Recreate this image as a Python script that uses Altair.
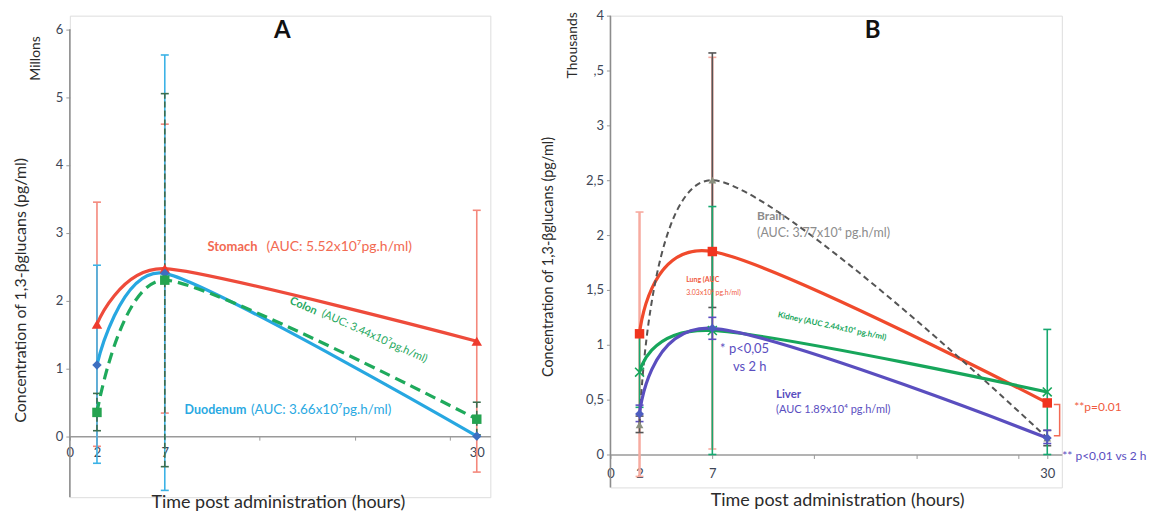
import altair as alt
import pandas as pd

FONT = "Lato"
TIMES = [2, 7, 30]

# ---------- Panel A (millions of pg/ml) ----------
A_NAMES = ["Stomach", "Duodenum", "Colon"]
STOMACH = [1.65, 2.47, 1.40]
STOMACH_LO = [-0.15, 0.34, -0.53]
STOMACH_HI = [3.45, 4.60, 3.33]
DUODENUM = [1.05, 2.40, 0.00]
DUODENUM_LO = [-0.40, -0.80, 0.00]
DUODENUM_HI = [2.52, 5.62, 0.00]
COLON = [0.35, 2.30, 0.25]
COLON_LO = [0.08, -0.45, 0.02]
COLON_HI = [0.63, 5.05, 0.50]

# ---------- Panel B (thousands of pg/ml) ----------
B_NAMES = ["Lung", "Brain", "Kidney", "Liver"]
LUNG = [1.10, 1.85, 0.47]
LUNG_LO = [-0.20, 0.05, 0.47]
LUNG_HI = [2.21, 3.62, 0.47]
BRAIN = [0.27, 2.50, 0.15]
BRAIN_LO = [0.20, 1.34, 0.08]
BRAIN_HI = [0.35, 3.66, 0.22]
KIDNEY = [0.75, 1.13, 0.57]
KIDNEY_LO = [0.43, 0.00, 0.00]
KIDNEY_HI = [1.07, 2.26, 1.14]
LIVER = [0.37, 1.15, 0.15]
LIVER_LO = [0.30, 1.05, 0.10]
LIVER_HI = [0.45, 1.25, 0.22]

A_YTICKS = [0, 1, 2, 3, 4, 5, 6]
B_YTICKS = [0, 0.5, 1, 1.5, 2, 2.5, 3, 3.5, 4]
X_TICKS = [0, 2, 7, 14, 21, 28, 30]
X_LABELED = [0, 2, 7, 30]

A_STYLE = {
    "Stomach": dict(color="#EE4B3B", dash=None, shape="triangle-up", mcolor="#EE3B2E",
                    ecolor="#F4887C", edash=None, size=110),
    "Duodenum": dict(color="#27A7E1", dash=None, shape="diamond", mcolor="#3D6FC0",
                     ecolor="#3BB2E6", edash=None, size=90),
    "Colon": dict(color="#1FAA5C", dash=[11, 6], shape="square", mcolor="#25A350",
                  ecolor="#3C6E4E", edash=[6, 3], size=90),
}
B_STYLE = {
    "Lung": dict(color="#F04A2C", dash=None, shape="square", mcolor="#F0341E",
                 ecolor="#F7ABA0", edash=None, size=90, ewidth=2.5),
    "Brain": dict(color="#555555", dash=[6, 4], shape="triangle-up", mcolor="#8A8F7E",
                  ecolor="#555555", edash=None, size=60, width=2),
    "Kidney": dict(color="#17A65B", dash=None, shape="M-1,-1L1,1M-1,1L1,-1", mcolor="#17A65B",
                   ecolor="#17A870", edash=None, size=80, hollow=True),
    "Liver": dict(color="#5A4EBF", dash=None, shape="diamond", mcolor="#4D5CC0",
                  ecolor="#5A4EBF", edash=None, size=80),
}


def build_df(names, vals, los, his):
    rows = []
    for name, v, lo, hi in zip(names, vals, los, his):
        for t, a, b, c in zip(TIMES, v, lo, hi):
            rows.append(dict(series=name, t=t, v=a, lo=b, hi=c))
    return pd.DataFrame(rows)


dfA = build_df(A_NAMES, [STOMACH, DUODENUM, COLON],
               [STOMACH_LO, DUODENUM_LO, COLON_LO], [STOMACH_HI, DUODENUM_HI, COLON_HI])
dfB = build_df(B_NAMES, [LUNG, BRAIN, KIDNEY, LIVER],
               [LUNG_LO, BRAIN_LO, KIDNEY_LO, LIVER_LO], [LUNG_HI, BRAIN_HI, KIDNEY_HI, LIVER_HI])


def make_panel(df, styles, ydom, yline, yticks, ylabel_expr, px_x, px_y, annotations,
               xlabel_pad, tension, extra=None):
    xdom = [0, 31]
    W = (xdom[1] - xdom[0]) * px_x
    H = (ydom[1] - ydom[0]) * px_y
    xscale = alt.Scale(domain=xdom, nice=False, zero=False)
    yscale = alt.Scale(domain=ydom, nice=False, zero=False)
    offset = -H * (0 - ydom[0]) / (ydom[1] - ydom[0])
    xaxis = alt.Axis(values=X_TICKS,
                     labelExpr="indexof(%s, datum.value) >= 0 ? datum.label : ''" % str(X_LABELED),
                     offset=offset, domainColor="#9a9a9a", domainWidth=1.5, tickColor="#9a9a9a",
                     tickSize=4, labelFont=FONT, labelFontSize=13, labelColor="#3d4656",
                     labelPadding=xlabel_pad, labelFlush=False, title=None, grid=False)
    yaxis = alt.Axis(values=yticks, labelExpr=ylabel_expr, domain=False, tickColor="#9a9a9a",
                     tickSize=4, labelFont=FONT, labelFontSize=13, labelColor="#3d4656",
                     labelPadding=3, title=None, grid=False)

    def X(f):
        return alt.X(f"{f}:Q", scale=xscale, axis=xaxis)

    def Y(f):
        return alt.Y(f"{f}:Q", scale=yscale, axis=yaxis)

    layers = []
    # y axis line
    yl = pd.DataFrame({"x": [0], "y": [yline[0]], "y2": [yline[1]]})
    layers.append(alt.Chart(yl).mark_rule(color="#8c8c8c", strokeWidth=1.5)
                  .encode(x=X("x"), y=Y("y"), y2="y2"))
    # error bars
    for name, st in styles.items():
        d = df[(df.series == name) & (df.hi > df.lo)]
        kw = {}
        if st["edash"]:
            kw["strokeDash"] = st["edash"]
        layers.append(alt.Chart(d).mark_rule(color=st["ecolor"], strokeWidth=st.get("ewidth", 1.6), **kw)
                      .encode(x=X("t"), y=Y("lo"), y2="hi"))
        for f in ["lo", "hi"]:
            layers.append(alt.Chart(d).mark_point(shape="stroke", size=64, filled=False,
                                                  color=st["ecolor"], strokeWidth=1.6, opacity=1)
                          .encode(x=X("t"), y=Y(f)))
    # lines (smoothed, Excel-like)
    for name, st in styles.items():
        d = df[df.series == name]
        kw = {}
        if st["dash"]:
            kw["strokeDash"] = st["dash"]
        layers.append(alt.Chart(d).mark_line(color=st["color"], strokeWidth=st.get("width", 3.2),
                                             interpolate="cardinal", tension=tension, **kw)
                      .encode(x=X("t"), y=Y("v")))
    # markers
    for name, st in styles.items():
        d = df[df.series == name]
        if st.get("hollow"):
            mk = alt.Chart(d).mark_point(shape=st["shape"], size=st["size"], filled=False,
                                         color=st["mcolor"], strokeWidth=1.6, opacity=1)
        else:
            mk = alt.Chart(d).mark_point(shape=st["shape"], size=st["size"], filled=True,
                                         color=st["mcolor"], opacity=1)
        layers.append(mk.encode(x=X("t"), y=Y("v")))
    if extra is not None:
        layers.append(extra(X, Y))
    # annotations
    for a in annotations:
        d = pd.DataFrame({"x": [a["x"]], "y": [a["y"]], "text": [a["text"]]})
        layers.append(alt.Chart(d).mark_text(
            font=FONT, fontSize=a["size"], fontWeight="bold" if a.get("bold") else "normal",
            color=a["color"], angle=a.get("angle", 0), align=a.get("align", "left"),
            baseline="middle").encode(x=X("x"), y=Y("y"), text="text:N"))
    return alt.layer(*layers).properties(width=W, height=H)


TITLE_COLOR = "#2b2b2b"
Y_TITLE = "Concentration of 1,3-βglucans (pg/ml)"
X_TITLE = "Time post administration (hours)"

annA = [
    dict(text="A", x=15.66, y=5.97, size=24, bold=True, color="#111111", align="center"),
    dict(text="Millons", x=-2.5, y=5.57, size=14, color=TITLE_COLOR, angle=270, align="center"),
    dict(text=Y_TITLE, x=-3.6, y=2.15, size=16, color=TITLE_COLOR, angle=270, align="center"),
    dict(text=X_TITLE, x=15.37, y=-0.985, size=18, color=TITLE_COLOR, align="center"),
    dict(text="Stomach", x=10.15, y=2.79, size=13, bold=True, color="#F26A52"),
    dict(text="(AUC: 5.52x10⁷pg.h/ml)", x=14.5, y=2.79, size=14, color="#F26A52"),
    dict(text="Colon", x=16.25, y=2.0, size=11, bold=True, color="#1FA85E", angle=24),
    dict(text="(AUC: 3.44x10⁷pg.h/ml)", x=18.6, y=1.81, size=11, color="#1FA85E", angle=24),
    dict(text="Duodenum", x=8.46, y=0.38, size=12.5, bold=True, color="#2AA9E2"),
    dict(text="(AUC: 3.66x10⁷pg.h/ml)", x=13.35, y=0.38, size=13.5, color="#2AA9E2"),
]

annB = [
    dict(text="B", x=18.0, y=3.86, size=24, bold=True, color="#111111", align="center"),
    dict(text="Thousands", x=-2.6, y=3.73, size=14, color=TITLE_COLOR, angle=270, align="center"),
    dict(text=Y_TITLE, x=-4.25, y=1.80, size=14.5, color=TITLE_COLOR, angle=270, align="center"),
    dict(text=X_TITLE, x=15.6, y=-0.42, size=18, color=TITLE_COLOR, align="center"),
    dict(text="Brain", x=10.07, y=2.17, size=12, bold=True, color="#8C8C8C"),
    dict(text="(AUC: 3.77x10⁴ pg.h/ml)", x=10.07, y=2.02, size=12.5, color="#8C8C8C"),
    dict(text="Lung (AUC", x=5.2, y=1.59, size=7, bold=True, color="#F05A40"),
    dict(text="3.03x10⁴ pg.h/ml)", x=5.2, y=1.47, size=7, color="#F05A40"),
    dict(text="Kidney  (AUC 2.44x10⁴ pg.h/ml)", x=11.5, y=1.27, size=8, bold=True,
         color="#17A65B", angle=12),
    dict(text="* p<0,05", x=7.53, y=0.96, size=13, color="#5A4EBF"),
    dict(text="vs 2 h", x=8.42, y=0.80, size=13, color="#5A4EBF"),
    dict(text="Liver", x=11.37, y=0.545, size=11.5, bold=True, color="#5A4EBF"),
    dict(text="(AUC 1.89x10⁴ pg.h/ml)", x=11.37, y=0.41, size=11, color="#5A4EBF"),
    dict(text="**p=0.01", x=31.85, y=0.43, size=12, color="#F05A40"),
    dict(text="** p<0,01 vs 2 h", x=31.03, y=-0.01, size=12, color="#5A4EBF"),
]

BRACKET_X = [30.45, 30.85, 30.85, 30.45]
BRACKET_Y = [0.455, 0.455, 0.17, 0.17]


def bracket(X, Y):
    d = pd.DataFrame({"x": BRACKET_X, "y": BRACKET_Y, "o": list(range(len(BRACKET_X)))})
    return alt.Chart(d).mark_line(color="#F36A55", strokeWidth=1.5).encode(
        x=X("x"), y=Y("y"), order="o:Q")


panelA = make_panel(dfA, A_STYLE, [-0.9, 6.2], [-0.9, 6.0], A_YTICKS, "datum.label",
                    13.6, 68, annA, 6, 0.3)
panelB = make_panel(dfB, B_STYLE, [-0.3, 4.0], [-0.3, 4.0], B_YTICKS,
                    "datum.value == 3.5 ? ',5' : replace(toString(datum.value), '.', ',')",
                    14.6, 110, annB, 9, 0.05, extra=bracket)

chart = alt.hconcat(panelA, panelB, spacing=48).properties(
    padding={"left": 4, "top": 0, "right": 0, "bottom": 0}
).configure_view(stroke=None).configure(font=FONT)

chart.save("out.html", embed_options={"renderer": "svg", "actions": False})
